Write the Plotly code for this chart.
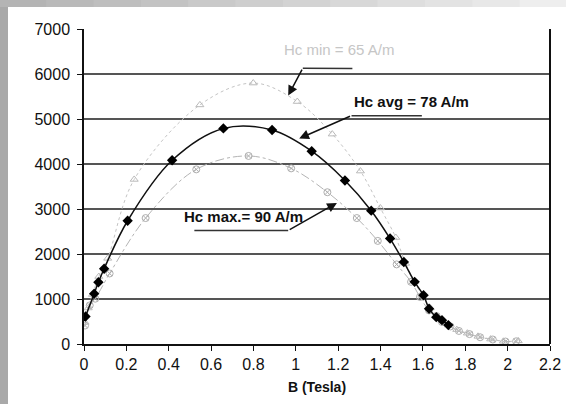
import plotly.graph_objects as go

# ---- data ----
avg_B = [0.007, 0.048, 0.068, 0.095, 0.206, 0.416, 0.658, 0.888, 1.075, 1.232, 1.356, 1.445,
         1.510, 1.561, 1.603, 1.629, 1.663, 1.69, 1.72]
avg_H = [612, 1119, 1373, 1672, 2739, 4082, 4791, 4754, 4284, 3634, 2963, 2343,
         1821, 1381, 1082, 784, 597, 530, 420]

min_B = [0.005, 0.02, 0.04, 0.07, 0.112, 0.237, 0.547, 0.799, 1.007, 1.172, 1.305, 1.399, 1.472,
         1.518, 1.561, 1.595, 1.635, 1.668, 1.69, 1.72, 1.76, 1.81, 1.86, 1.92, 1.98, 2.05]
min_H = [480, 800, 1100, 1500, 1903, 3657, 5313, 5799, 5388, 4664, 3843, 3022, 2366,
         1791, 1381, 1082, 800, 620, 520, 420, 320, 240, 170, 110, 60, 70]

max_B = [0.005, 0.027, 0.053, 0.121, 0.291, 0.53, 0.777, 0.978, 1.149, 1.288, 1.387, 1.476,
         1.544, 1.586, 1.629, 1.665, 1.69, 1.73, 1.77, 1.82, 1.87, 1.93, 1.99, 2.04]
max_H = [410, 858, 1007, 1567, 2799, 3881, 4179, 3903, 3373, 2799, 2291, 1769,
         1381, 1045, 746, 620, 490, 390, 290, 220, 150, 100, 55, 60]

x_ticks = [0, 0.2, 0.4, 0.6, 0.8, 1, 1.2, 1.4, 1.6, 1.8, 2, 2.2]
x_tick_text = ["0", "0.2", "0.4", "0.6", "0.8", "1", "1.2", "1.4", "1.6", "1.8", "2", "2.2"]
y_ticks = [0, 1000, 2000, 3000, 4000, 5000, 6000, 7000]

label_min = "Hc min = 65 A/m"
label_avg = "Hc avg = 78 A/m"
label_max = "Hc max.= 90 A/m"

FONT = "Liberation Sans, Arial, sans-serif"
PW, PH = 466, 315  # plot area size in px (for placing the slide frame strips)

fig = go.Figure()

fig.add_trace(go.Scatter(
    x=max_B, y=max_H, mode="lines+markers", line_shape="spline",
    line=dict(color="#b4b4b4", width=1, dash="dashdot"),
    marker=dict(symbol="circle-x-open", size=7, color="#adadad", line=dict(width=1)),
    showlegend=False))
fig.add_trace(go.Scatter(
    x=min_B, y=min_H, mode="lines+markers", line_shape="spline",
    line=dict(color="#c4c4c4", width=1, dash="dot"),
    marker=dict(symbol="triangle-up-open", size=7, color="#bababa", line=dict(width=1)),
    showlegend=False))
fig.add_trace(go.Scatter(
    x=avg_B, y=avg_H, mode="lines+markers", line_shape="spline",
    line=dict(color="#111111", width=1.5),
    marker=dict(symbol="diamond", size=8, color="#000000"),
    showlegend=False))

shapes = []
# gray frame strips of the slide
shapes.append(dict(type="rect", xref="paper", yref="paper",
                   x0=-85 / PW, x1=-76 / PW, y0=-61 / PH, y1=376 / PH,
                   fillcolor="#a9a9a9", line_width=0, layer="above"))
n = 12
for i in range(n):
    g = int(0xb4 + (0xee - 0xb4) * i / (n - 1))
    shapes.append(dict(type="rect", xref="paper", yref="paper",
                       x0=(-85 + 568 * i / n) / PW, x1=(-85 + 568 * (i + 1) / n) / PW,
                       y0=(PH + 22) / PH, y1=(PH + 30) / PH,
                       fillcolor=f"rgb({g},{g},{g})", line_width=0, layer="above"))
# right border of plot
shapes.append(dict(type="line", xref="paper", yref="paper", x0=1, x1=1, y0=0, y1=1,
                   line=dict(color="#111111", width=2)))
# leader lines (horizontal parts)
shapes.append(dict(type="line", xref="x", yref="y", x0=1.033, x1=1.267, y0=6130, y1=6120,
                   line=dict(color="#333333", width=1.5)))
shapes.append(dict(type="line", xref="x", yref="y", x0=1.263, x1=1.595, y0=5075, y1=5075,
                   line=dict(color="#333333", width=1.5)))
shapes.append(dict(type="line", xref="x", yref="y", x0=0.521, x1=0.964, y0=2522, y1=2522,
                   line=dict(color="#333333", width=1.5)))

annotations = [
    dict(x=1.203, y=6540, text=label_min, showarrow=False,
         font=dict(family=FONT, size=15, color="#c6c6c6")),
    dict(x=1.548, y=5391, text="<b>" + label_avg + "</b>", showarrow=False,
         font=dict(family=FONT, size=15, color="#111111")),
    dict(x=0.753, y=2836, text="<b>" + label_max + "</b>", showarrow=False,
         font=dict(family=FONT, size=15, color="#111111")),
    dict(x=0.964, y=5522, ax=1.033, ay=6130, axref="x", ayref="y", text="",
         showarrow=True, arrowhead=2, arrowsize=1.3, arrowwidth=1.5, arrowcolor="#111111"),
    dict(x=1.016, y=4567, ax=1.263, ay=5075, axref="x", ayref="y", text="",
         showarrow=True, arrowhead=2, arrowsize=1.3, arrowwidth=1.5, arrowcolor="#111111"),
    dict(x=1.194, y=3134, ax=0.964, ay=2522, axref="x", ayref="y", text="",
         showarrow=True, arrowhead=2, arrowsize=1.3, arrowwidth=1.5, arrowcolor="#111111"),
]

fig.update_layout(
    width=566, height=404,
    margin=dict(l=84, r=16, t=29, b=60, autoexpand=False),
    paper_bgcolor="rgba(0,0,0,0)", plot_bgcolor="white",
    font=dict(family=FONT, size=16, color="#111111"),
    shapes=shapes, annotations=annotations,
    xaxis=dict(range=[0, 2.2], tickvals=x_ticks, ticktext=x_tick_text,
               showgrid=False, zeroline=False, showline=True, linecolor="#111111",
               linewidth=1.5, ticks="outside", ticklen=5, tickcolor="#111111",
               automargin=False,
               tickfont=dict(family=FONT, size=16, color="#111111"),
               title=dict(text="<b>B (Tesla)</b>", font=dict(family=FONT, size=14, color="#111111"),
                          standoff=10)),
    yaxis=dict(range=[0, 7000], tickvals=y_ticks,
               showgrid=True, gridcolor="#555555", gridwidth=2, zeroline=False,
               showline=True, linecolor="#111111", linewidth=1.5,
               ticks="outside", ticklen=5, tickcolor="#111111",
               ticklabelstandoff=4, automargin=False,
               tickfont=dict(family=FONT, size=16, color="#111111")),
)

page_css = (
    "var b=document.body;b.style.margin='0';b.style.overflow='hidden';"
    "b.style.backgroundColor='#ffffff';"
    "b.style.backgroundImage='linear-gradient(to right,#a9a9a9 0px,#a9a9a9 8px,rgba(0,0,0,0) 8px),"
    "linear-gradient(to right,#b4b4b4,#eeeeee)';"
    "b.style.backgroundSize='100% 100%,100% 7px';"
    "b.style.backgroundRepeat='no-repeat';"
)

fig.write_html("out.html", config={"displayModeBar": False}, post_script=page_css)
